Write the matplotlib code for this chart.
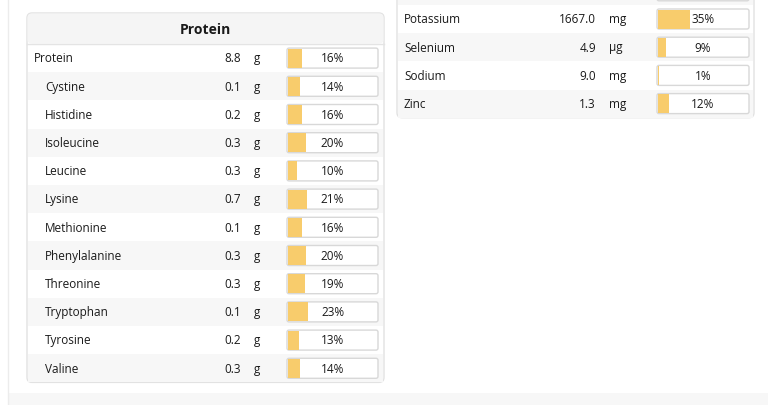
import matplotlib.pyplot as plt
from matplotlib.patches import FancyBboxPatch, Rectangle

plt.rcParams['font.family'] = ['Open Sans', 'DejaVu Sans']

# data
left_title = "Protein"
left_names = ["Protein", "Cystine", "Histidine", "Isoleucine", "Leucine", "Lysine",
              "Methionine", "Phenylalanine", "Threonine", "Tryptophan", "Tyrosine", "Valine"]
left_values = [8.8, 0.1, 0.2, 0.3, 0.3, 0.7, 0.1, 0.3, 0.3, 0.1, 0.2, 0.3]
left_units = ["g"] * 12
left_pct = [16, 14, 16, 20, 10, 21, 16, 20, 19, 23, 13, 14]

right_names = ["Potassium", "Selenium", "Sodium", "Zinc"]
right_values = [1667.0, 4.9, 9.0, 1.3]
right_units = ["mg", "µg", "mg", "mg"]
right_pct = [35, 9, 1, 12]

fig = plt.figure(figsize=(7.68, 4.05), dpi=100)
ax = fig.add_axes([0, 0, 1, 1])
ax.set_xlim(0, 768)
ax.set_ylim(405, 0)
ax.axis('off')

# page background
ax.add_patch(Rectangle((8, 393), 760, 12, facecolor='#f7f7f7', edgecolor='none', zorder=0))
ax.plot([8, 8], [0, 405], color='#ececec', lw=1, zorder=0)

row_h = 28.2
bar_fill = '#f8cc6c'
fs = 8.5
txt = '#1a1a1a'


def draw_table(x0, x1, top, names, values, units, pct, name_x, indent_x, val_x, unit_x,
               box_x0, box_x1):
    box_w = box_x1 - box_x0
    n = len(names)
    ys = [top + (i + 0.5) * row_h for i in range(n)]
    for i, y in enumerate(ys):
        if i % 2 == 1:
            ax.add_patch(Rectangle((x0 + 1, y - row_h / 2), x1 - x0 - 2, row_h,
                                   facecolor='#f7f7f7', edgecolor='none', zorder=2))
        ty = y + 0.8
        nx = name_x if (indent_x is None or i == 0) else indent_x
        ax.text(nx, ty, names[i], fontsize=fs, ha='left', va='center', color=txt, zorder=5)
        ax.text(val_x, ty, f"{values[i]:.1f}", fontsize=fs, ha='right', va='center',
                color=txt, zorder=5)
        ax.text(unit_x, ty, units[i], fontsize=fs, ha='left', va='center', color=txt, zorder=5)
        ax.add_patch(FancyBboxPatch((box_x0, y - 10), box_w, 20,
                                    boxstyle='round,pad=0,rounding_size=2',
                                    facecolor='white', edgecolor='#d8d8d8', lw=1, zorder=3))
    ax.barh(ys, [max(p / 100 * box_w, 1.2) for p in pct], left=box_x0 + 0.5, height=19,
            color=bar_fill, edgecolor='none', zorder=4)
    for y, p in zip(ys, pct):
        ax.text((box_x0 + box_x1) / 2, y + 0.8, f"{p}%", fontsize=fs, ha='center', va='center',
                color=txt, zorder=5)


# left panel
lx0, lx1, ltop, lhead = 27, 384, 13, 44
lbottom = lhead + len(left_names) * row_h
ax.add_patch(FancyBboxPatch((lx0, ltop), lx1 - lx0, lbottom - ltop,
                            boxstyle='round,pad=0,rounding_size=5',
                            facecolor='white', edgecolor='#e2e2e2', lw=1, zorder=1))
ax.add_patch(FancyBboxPatch((lx0 + 0.5, ltop + 0.5), lx1 - lx0 - 1, lhead - ltop - 1,
                            boxstyle='round,pad=0,rounding_size=4',
                            facecolor='#f5f5f5', edgecolor='none', zorder=2))
ax.plot([lx0, lx1], [lhead, lhead], color='#e4e4e4', lw=1, zorder=3)
ax.text((lx0 + lx1) / 2, (ltop + lhead) / 2 + 1.5, left_title, fontsize=10, fontweight='bold',
        ha='center', va='center', color=txt, zorder=5)
draw_table(lx0, lx1, lhead, left_names, left_values, left_units, left_pct,
           34, 45, 241, 254, 287, 378)

# right panel (top cut off by the frame)
rx0, rx1, rtop = 397, 754, 4.9
rbottom = rtop + len(right_names) * row_h
ax.add_patch(FancyBboxPatch((rx0, -40), rx1 - rx0, rbottom + 40,
                            boxstyle='round,pad=0,rounding_size=5',
                            facecolor='white', edgecolor='#e2e2e2', lw=1, zorder=1))
ax.add_patch(Rectangle((rx0 + 1, rtop - row_h), rx1 - rx0 - 2, row_h,
                       facecolor='#f7f7f7', edgecolor='none', zorder=2))
ax.add_patch(FancyBboxPatch((657, rtop - row_h / 2 - 10), 92, 20,
                            boxstyle='round,pad=0,rounding_size=2',
                            facecolor='white', edgecolor='#d8d8d8', lw=1, zorder=3))
draw_table(rx0, rx1, rtop, right_names, right_values, right_units, right_pct,
           404, None, 596, 609, 657, 749)

fig.savefig('out.png', dpi=100)
